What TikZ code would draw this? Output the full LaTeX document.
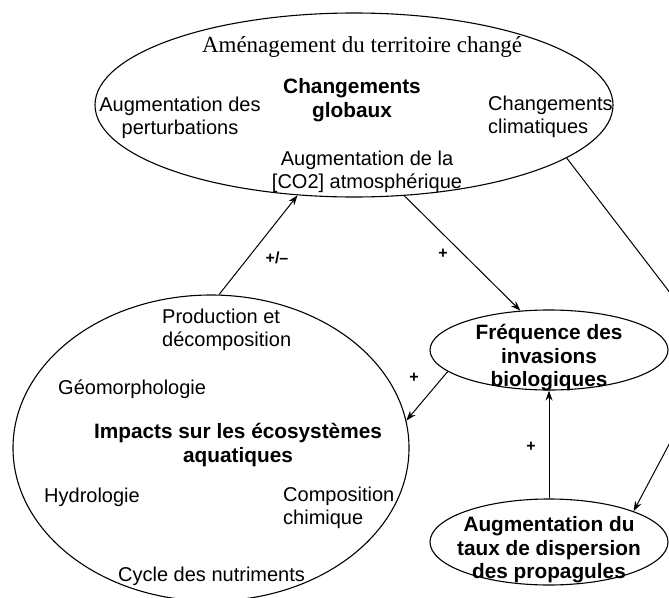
\documentclass[tikz,border=0pt]{standalone}
\usepackage{fontspec}
\setmainfont{Liberation Sans}
\newfontfamily\tmsfont{Liberation Serif}
\usetikzlibrary{shapes.geometric,arrows.meta}
\begin{document}
\begin{tikzpicture}[x=1pt,y=-1pt,
  bub/.style={ellipse,draw,line width=1.1pt,inner sep=0pt},
  txt/.style={inner sep=0pt,font=\fontsize{20}{23.5}\selectfont},
  btxt/.style={inner sep=0pt,font=\fontsize{20.8}{23.5}\selectfont\bfseries,align=center},
  lbl/.style={inner sep=0pt,font=\fontsize{16}{18}\selectfont\bfseries},
  conn/.style={line width=1pt,-{Stealth[length=10pt,width=7pt]}}]
\useasboundingbox (0,0) rectangle (669,597);
\clip (0,0) rectangle (669,597);
% ellipses
\node[bub,minimum width=518pt,minimum height=184pt] (cg) at (354,105) {};
\node[bub,minimum width=396pt,minimum height=306pt] (imp) at (211,448) {};
\node[bub,minimum width=238pt,minimum height=80pt] (fr) at (549,350) {};
\node[bub,minimum width=238pt,minimum height=86pt] (disp) at (549,542) {};
% texts in top ellipse
\node[inner sep=0pt,font=\fontsize{23}{26}\selectfont\tmsfont] (amen) at (362,47) {Aménagement du territoire changé};
\node[btxt] (cgt) at (352,100) {Changements\\globaux};
\node[txt,align=center] (pert) at (180,118) {Augmentation des\\perturbations};
\node[txt,align=left,anchor=west] (clim) at (488,117) {Changements\\climatiques};
\node[txt,align=center] (co2) at (367,172) {Augmentation de la\\{[CO2]} atmosphérique};
% texts in bottom-left ellipse
\node[txt,align=left,anchor=west] (prod) at (162,330) {Production et\\décomposition};
\node[txt,anchor=west] (geo) at (58,389) {Géomorphologie};
\node[btxt] (impt) at (238,445) {Impacts sur les écosystèmes\\aquatiques};
\node[txt,anchor=west] (hyd) at (44,497) {Hydrologie};
\node[txt,align=left,anchor=west] (comp) at (283,508) {Composition\\chimique};
\node[txt,anchor=west] (cyc) at (118,576) {Cycle des nutriments};
% texts in right ellipses
\node[btxt] (frt) at (549,358) {Fréquence des\\invasions\\biologiques};
\node[btxt] (dispt) at (549,550) {Augmentation du\\taux de dispersion\\des propagules};
% connectors
\coordinate (bend) at (717,354);
\draw[conn] (imp.87.4) -- (cg.238);
\draw[conn] (cg.-61.3) -- (fr.126);
\draw[conn] (fr.192) -- (imp.8.4);
\draw[conn] (disp.north) -- (fr.south);
\draw[conn] (cg.-14.2) -- (bend) -- (disp.20.9);
% labels
\node[lbl] (l1) at (277,258) {+/–};
\node[lbl] (l2) at (443,254) {+};
\node[lbl] (l3) at (414,378) {+};
\node[lbl] (l4) at (531,447) {+};
\end{tikzpicture}
\end{document}
